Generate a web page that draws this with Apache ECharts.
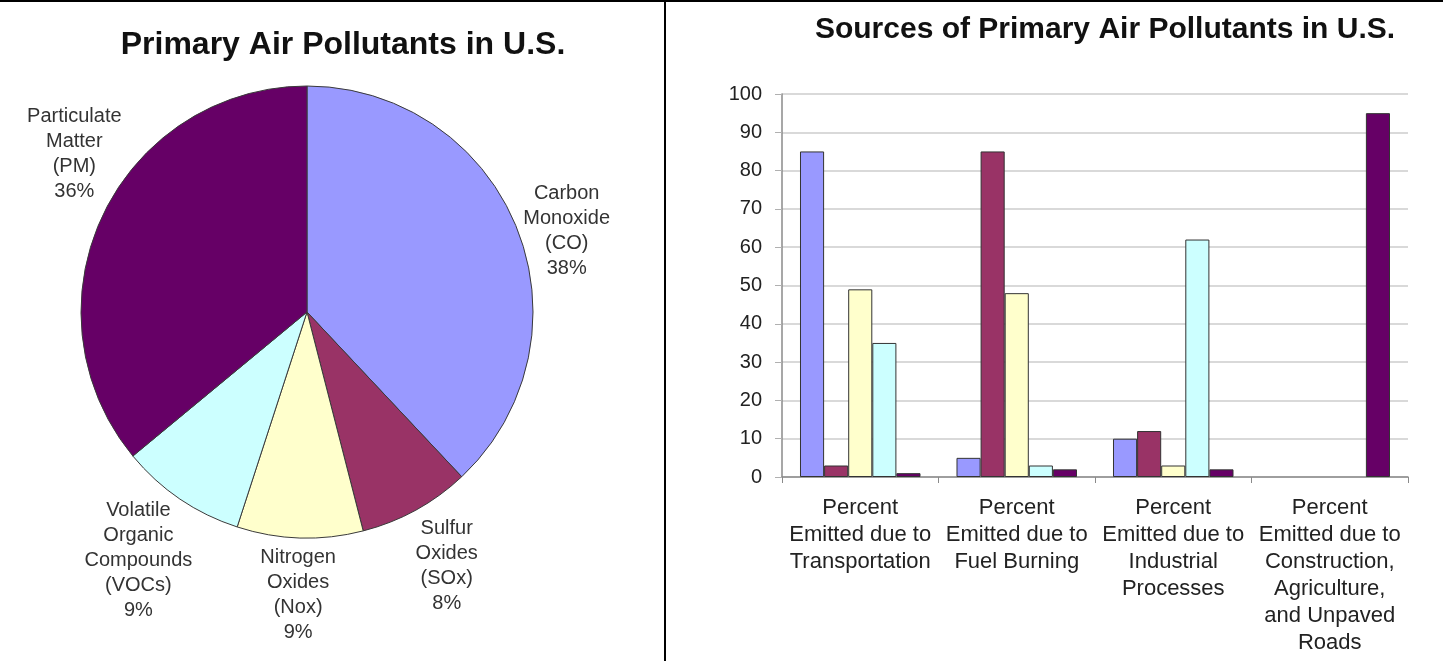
<!DOCTYPE html>
<html>
<head>
<meta charset="utf-8">
<title>Primary Air Pollutants in U.S.</title>
<script src="https://cdn.jsdelivr.net/npm/echarts@6/dist/echarts.min.js"></script>
<style>
  html, body { margin: 0; padding: 0; background: #fff; }
  #chart { width: 1443px; height: 661px; }
</style>
</head>
<body>
<div id="chart"></div>
<script>
// Pollutant shares of total emissions (pie)
const pollutantLabels = ['Carbon\nMonoxide\n(CO)', 'Sulfur\nOxides\n(SOx)', 'Nitrogen\nOxides\n(Nox)', 'Volatile\nOrganic\nCompounds\n(VOCs)', 'Particulate\nMatter\n(PM)'];
const pollutantShare = [38, 8, 9, 9, 36];

// Emission sources (bar categories)
const sourceLabels = [
  'Percent\nEmitted due to\nTransportation',
  'Percent\nEmitted due to\nFuel Burning',
  'Percent\nEmitted due to\nIndustrial\nProcesses',
  'Percent\nEmitted due to\nConstruction,\nAgriculture,\nand Unpaved\nRoads'
];
// Percent of each pollutant emitted by each source
const coBySource  = [85, 5, 10, null];
const soxBySource = [3, 85, 12, null];
const noxBySource = [49, 48, 3, null];
const vocBySource = [35, 3, 62, null];
const pmBySource  = [1, 2, 2, 95];

const seriesNames = ['CO', 'SOx', 'NOx', 'VOCs', 'PM'];
const seriesValues = [coBySource, soxBySource, noxBySource, vocBySource, pmBySource];
const palette = ['#9999ff', '#993366', '#ffffcc', '#ccffff', '#660066'];

const FONT = '"Liberation Sans", Arial, Helvetica, sans-serif';

// Pie geometry and how far out each label sits (distance from centre, angular nudge in degrees)
const PIE_CX = 307, PIE_CY = 312, PIE_R = 226;
const labelReach = [272, 290, 283, 300, 281];
const labelTurn = [4.3, 0, 0, 0, 8.9];

const total = pollutantShare.reduce((a, b) => a + b, 0);
function midAngle(i) {
  let before = 0;
  for (let k = 0; k < i; k++) before += pollutantShare[k];
  return (before + pollutantShare[i] / 2) / total * Math.PI * 2;
}

const chart = echarts.init(document.getElementById('chart'), null, { renderer: 'canvas' });

const option = {
  backgroundColor: '#ffffff',
  animation: false,
  textStyle: { fontFamily: FONT },
  graphic: [
    // frame: top rule and divider between the two panels
    { type: 'line', shape: { x1: 0, y1: 1, x2: 1443, y2: 1 }, style: { stroke: '#000', lineWidth: 2 } },
    { type: 'line', shape: { x1: 665, y1: 0, x2: 665, y2: 661 }, style: { stroke: '#000', lineWidth: 2 } },
    { type: 'text', x: 343, y: 45, style: { text: 'Primary Air Pollutants in U.S.', font: 'bold 32px ' + FONT, fill: '#111', align: 'center', verticalAlign: 'middle' } },
    { type: 'text', x: 1105, y: 30, style: { text: 'Sources of Primary Air Pollutants in U.S.', font: 'bold 30px ' + FONT, fill: '#111', align: 'center', verticalAlign: 'middle' } }
  ],
  grid: { left: 782, right: 35, top: 94, bottom: 184, containLabel: false },
  xAxis: {
    type: 'category',
    data: sourceLabels,
    boundaryGap: true,
    axisLine: { lineStyle: { color: '#8a8a8a', width: 1.5 } },
    axisTick: { show: true, length: 6, alignWithLabel: false, lineStyle: { color: '#8a8a8a' } },
    axisLabel: { interval: 0, margin: 17, fontSize: 22, lineHeight: 27, color: '#222', fontFamily: FONT }
  },
  yAxis: {
    type: 'value',
    min: 0, max: 100, interval: 10,
    axisLine: { show: true, lineStyle: { color: '#8a8a8a', width: 1.5 } },
    axisTick: { show: true, length: 7, lineStyle: { color: '#b0b0b0' } },
    axisLabel: { margin: 20, fontSize: 20, color: '#222', fontFamily: FONT },
    splitLine: { show: true, lineStyle: { color: '#cccccc', width: 1.5 } }
  },
  series: [
    {
      type: 'pie',
      center: [PIE_CX, PIE_CY],
      radius: PIE_R,
      startAngle: 90,
      clockwise: true,
      avoidLabelOverlap: false,
      silent: true,
      itemStyle: { borderColor: '#3a3a3a', borderWidth: 1 },
      label: {
        show: true,
        position: 'outside',
        fontSize: 20,
        lineHeight: 25,
        color: '#333',
        fontFamily: FONT,
        formatter: p => p.name + '\n' + p.value + '%'
      },
      labelLine: { show: false },
      labelLayout: function (params) {
        const i = params.dataIndex;
        const a = midAngle(i) + labelTurn[i] * Math.PI / 180;
        return {
          x: PIE_CX + labelReach[i] * Math.sin(a),
          y: PIE_CY - labelReach[i] * Math.cos(a),
          align: 'center',
          verticalAlign: 'middle'
        };
      },
      data: pollutantShare.map((v, i) => ({
        name: pollutantLabels[i],
        value: v,
        itemStyle: { color: palette[i] }
      }))
    }
  ].concat(seriesValues.map((vals, i) => ({
    type: 'bar',
    name: seriesNames[i],
    data: vals,
    barGap: '0%',
    barCategoryGap: '23%',
    itemStyle: { color: palette[i], borderColor: '#333', borderWidth: 1 }
  })))
};

chart.setOption(option);
</script>
</body>
</html>
